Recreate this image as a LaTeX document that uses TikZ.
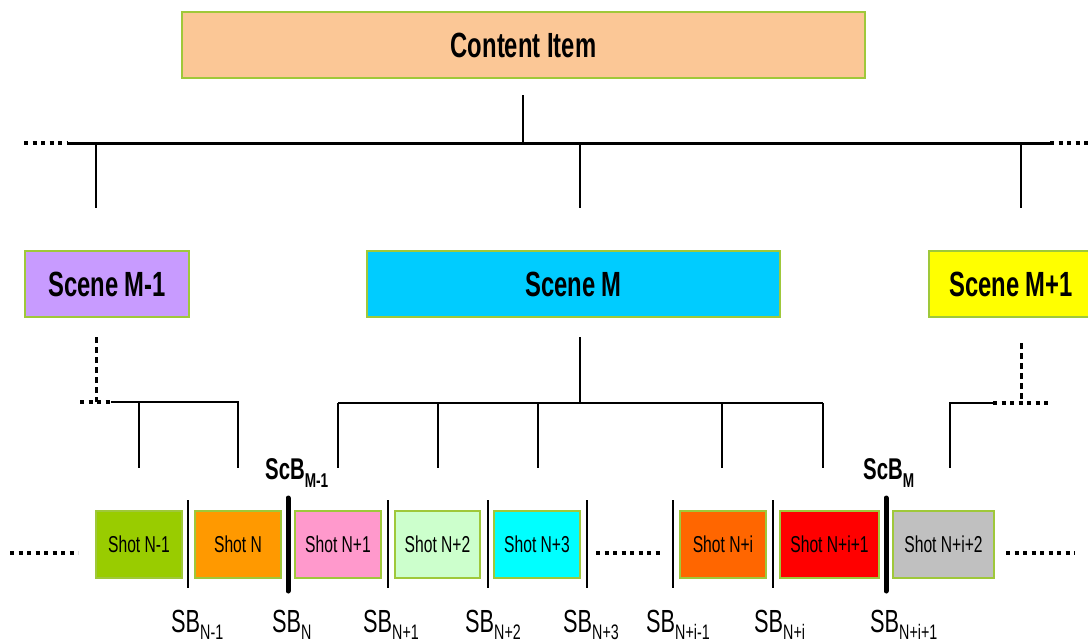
\documentclass[tikz,border=0pt]{standalone}
\usepackage{fontspec}
\setmainfont[FakeStretch=0.68]{Liberation Sans}
\usetikzlibrary{calc}

\definecolor{boxedge}{HTML}{9FC83A}
\definecolor{itemfill}{HTML}{FBC796}
\definecolor{sceneA}{HTML}{C89BFF}
\definecolor{sceneB}{HTML}{00CCFF}
\definecolor{sceneC}{HTML}{FFFF00}
\definecolor{shotA}{HTML}{99CC00}
\definecolor{shotB}{HTML}{FF9900}
\definecolor{shotC}{HTML}{FF99CC}
\definecolor{shotD}{HTML}{CCFFCC}
\definecolor{shotE}{HTML}{00FFFF}
\definecolor{shotF}{HTML}{FF6600}
\definecolor{shotG}{HTML}{FF0000}
\definecolor{shotH}{HTML}{C0C0C0}

\newcommand{\sbsub}[1]{\raisebox{-7pt}{\fontsize{21}{22}\selectfont #1}}

\begin{document}
\begin{tikzpicture}[x=1pt,y=-1pt,
  box/.style={draw=boxedge, line width=1.5pt, inner sep=0pt},
  bigbox/.style={box, line width=2pt, minimum height=66pt,
    font=\fontsize{35}{40}\selectfont\bfseries},
  shotbox/.style={box, minimum height=67pt, font=\fontsize{23}{26}\selectfont},
  link/.style={line width=1.4pt},
  bus/.style={line width=2.4pt},
  mainbus/.style={line width=3pt},
  dotline/.style={line width=4pt, dash pattern=on 4pt off 4.5pt},
  dashline/.style={line width=3pt, dash pattern=on 6pt off 4pt},
  sbline/.style={line width=1.8pt},
  scbline/.style={line width=5pt, line cap=round},
  sblabel/.style={anchor=base west, inner sep=0pt, font=\fontsize{32}{36}\selectfont},
  scblabel/.style={anchor=base west, inner sep=0pt, font=\fontsize{30}{34}\selectfont\bfseries}]

\useasboundingbox[fill=white] (0,0) rectangle (1088,643);

% content item
\node[bigbox, fill=itemfill, minimum width=683pt] (ci) at (523.5,45) {Content Item};

% scenes
\node[bigbox, fill=sceneA, minimum width=164pt] (sA) at (107,284) {Scene M-1};
\node[bigbox, fill=sceneB, minimum width=413pt] (sB) at (573.5,284) {Scene M};
\node[bigbox, fill=sceneC, minimum width=164pt] (sC) at (1011,284) {Scene M+1};

% top level tree
\coordinate (ciA) at (523,95);
\coordinate (ciB) at (523,143);
\coordinate (busL) at (67,143);
\coordinate (busR) at (1050,143);
\coordinate (dotL) at (24,143);
\coordinate (dotR) at (1088,143);
\draw[link] (ciA) -- (ciB);
\draw[mainbus] (busL) -- (busR);
\draw[dotline] (dotL) -- (busL);
\draw[dotline] (busR) -- (dotR);
\coordinate (tA) at (96,143);  \coordinate (tAe) at (96,208);
\coordinate (tB) at (580,143); \coordinate (tBe) at (580,208);
\coordinate (tC) at (1021,143); \coordinate (tCe) at (1021,208);
\draw[link] (tA) -- (tAe);
\draw[link] (tB) -- (tBe);
\draw[link] (tC) -- (tCe);

% shots
\node[shotbox, fill=shotA, minimum width=86pt]  (s1) at (139,544.5) {Shot N-1};
\node[shotbox, fill=shotB, minimum width=86pt]  (s2) at (238,544.5) {Shot N};
\node[shotbox, fill=shotC, minimum width=86pt]  (s3) at (338,544.5) {Shot N+1};
\node[shotbox, fill=shotD, minimum width=85pt]  (s4) at (437.5,544.5) {Shot N+2};
\node[shotbox, fill=shotE, minimum width=86pt]  (s5) at (537,544.5) {Shot N+3};
\node[shotbox, fill=shotF, minimum width=86pt]  (s6) at (723,544.5) {Shot N+i};
\node[shotbox, fill=shotG, minimum width=99pt]  (s7) at (829.5,544.5) {Shot N+i+1};
\node[shotbox, fill=shotH, minimum width=101pt] (s8) at (943.5,544.5) {Shot N+i+2};

% scene M-1 branch
\coordinate (aTop) at (96,337);
\coordinate (aJ) at (96,402);
\coordinate (aDL) at (80,402);
\coordinate (aDR) at (111,402);
\coordinate (a1) at (139,402); \coordinate (a1e) at (139,468);
\coordinate (a2e) at (238,468);
\draw[dashline] (aTop) -- (aJ);
\draw[dotline] (aDL) -- (aDR);
\draw[bus] (aDR) -| (a2e);
\draw[link] (a1) -- (a1e);

% scene M branch
\coordinate (bTop) at (580,337);
\coordinate (bJ) at (580,403);
\coordinate (bL) at (338,403);
\coordinate (bR) at (823,403);
\draw[link] (bTop) -- (bJ);
\draw[bus] (bL) -- (bR);
\foreach \x in {338,438,538,722,823}
  \draw[link] (\x,403) -- (\x,468);

% scene M+1 branch
\coordinate (cTop) at (1021,343);
\coordinate (cJ) at (1021,403);
\coordinate (cDL) at (993,403);
\coordinate (cDR) at (1050,403);
\coordinate (c1e) at (950,468);
\draw[dashline] (cTop) -- (cJ);
\draw[dotline] (cDL) -- (cDR);
\draw[bus] (cDL) -| (c1e);

% continuation dots in the shot row
\coordinate (r1) at (10,553);  \coordinate (r2) at (78,553);
\coordinate (r3) at (596,553); \coordinate (r4) at (662,553);
\coordinate (r5) at (1006,553); \coordinate (r6) at (1075,553);
\draw[dotline] (r1) -- (r2);
\draw[dotline] (r3) -- (r4);
\draw[dotline] (r5) -- (r6);

% shot boundaries
\foreach \x in {188,388,488,587,673,773}
  \draw[sbline] (\x,500) -- (\x,588);
\draw[scbline] (288,498) -- (288,591);
\draw[scbline] (886,498) -- (886,591);

% boundary labels
\node[sblabel] (l1) at (171,632) {SB\sbsub{N-1}};
\node[sblabel] (l2) at (272,632) {SB\sbsub{N}};
\node[sblabel] (l3) at (363,632) {SB\sbsub{N+1}};
\node[sblabel] (l4) at (465,632) {SB\sbsub{N+2}};
\node[sblabel] (l5) at (563,632) {SB\sbsub{N+3}};
\node[sblabel] (l6) at (646,632) {SB\sbsub{N+i-1}};
\node[sblabel] (l7) at (754,632) {SB\sbsub{N+i}};
\node[sblabel] (l8) at (870,632) {SB\sbsub{N+i+1}};

\node[scblabel] (k1) at (265,479) {ScB\raisebox{-8pt}{\fontsize{20}{22}\selectfont M-1}};
\node[scblabel] (k2) at (863,479) {ScB\raisebox{-8pt}{\fontsize{20}{22}\selectfont M}};

\end{tikzpicture}
\end{document}
